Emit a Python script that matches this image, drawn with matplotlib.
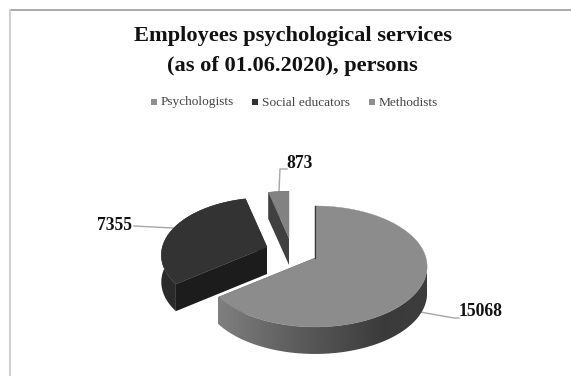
import numpy as np
import matplotlib
matplotlib.use("Agg")
import matplotlib.pyplot as plt
from matplotlib.patches import Polygon, Rectangle

categories = ["Psychologists", "Social educators", "Methodists"]
values = [15068, 7355, 873]
top_colors = ["#8c8c8c", "#333333", "#828282"]
cut_colors = ["#333333", "#1c1c1c", "#404040"]
rim_colors = ["#5a5a5a", "#2a2a2a", "#404040"]
legend_colors = ["#8f8f8f", "#333333", "#8f8f8f"]
apex_pixels = [(315, 258), (267, 247), (289, 238)]
radius_scale = [(0.965, 1.0), (0.91, 0.95), (0.87, 0.9)]
label_pixels = [(481, 312), (115, 226), (300, 163)]
leader_paths = [[(420, 312), (454, 318), (459, 318)],
                [(173, 228), (134, 226)],
                [(279, 191), (280, 169), (287, 169)]]

W, H = 571, 376
DEPTH = 27
RX, A, B = 115.0, 59.3, 0.14

fig = plt.figure(figsize=(W / 100, H / 100), dpi=100)
ax = fig.add_axes([0, 0, 1, 1])
ax.set_xlim(0, W)
ax.set_ylim(H, 0)
ax.axis("off")


def project(theta):
    """Map a clockwise-from-north angle on the unit disc to a pixel offset."""
    u, v = np.sin(theta), np.cos(theta)
    d = 1 + B * v
    return RX * u / d, -A * v / d


# Frame lines along the top and left of the chart area
ax.plot([9, W], [9.5, 9.5], color="#a2a2a2", lw=1.3, solid_capstyle="butt")
ax.plot([9.5, 9.5], [9, H], color="#d0d0d0", lw=1.5, solid_capstyle="butt")

# Slice angles follow from the values, clockwise from north
fractions = np.array(values, dtype=float) / sum(values)
edges = np.concatenate([[0], np.cumsum(fractions)]) * 2 * np.pi

# Horizontal shading used on the outer wall of the large slice
gradient = np.interp(np.linspace(0, 1, 256), [0, 0.35, 0.8, 1], [0.50, 0.37, 0.23, 0.24])[None, :]

# Back to front: methodists, social educators, psychologists
for i in [2, 1, 0]:
    base_z = 2 + 4 * (2 - i)
    cx, cy = apex_pixels[i]
    th = np.linspace(edges[i], edges[i + 1], 200)
    dx, dy = project(th)
    sx, sy = radius_scale[i]
    rim = np.column_stack([cx + sx * dx, cy + sy * dy])
    apex = np.array([cx, cy], dtype=float)
    down = np.array([0, DEPTH])

    # Cut faces running from the apex to each end of the rim
    for end in (rim[0], rim[-1]):
        face = np.array([apex, end, end + down, apex + down])
        ax.add_patch(Polygon(face, closed=True, fc=cut_colors[i], ec="none", zorder=base_z))

    # Curved outer wall; the large slice gets a clipped gradient
    wall = np.vstack([rim, (rim + down)[::-1]])
    if i == 0:
        visible = rim[:, 1] >= rim[:, 1][np.argmax(rim[:, 0])]
        low_rim = rim[visible]
        wall = np.vstack([low_rim, (low_rim + down)[::-1]])
        patch = Polygon(wall, closed=True, fc="none", ec="none", zorder=base_z + 1)
        ax.add_patch(patch)
        im = ax.imshow(gradient, cmap="gray", vmin=0, vmax=1, aspect="auto", zorder=base_z + 1,
                       extent=[low_rim[:, 0].min(), low_rim[:, 0].max(), H, 0])
        im.set_clip_path(patch)
    else:
        ax.add_patch(Polygon(wall, closed=True, fc=rim_colors[i], ec="none", zorder=base_z + 1))

    ax.add_patch(Polygon(np.vstack([apex, rim]), closed=True, fc=top_colors[i], ec=top_colors[i], lw=0.3,
                         zorder=base_z + 2))

    # Thin dark sliver where the first cut face of the large slice shows
    if i == 0:
        ax.plot([rim[0, 0], apex[0]], [rim[0, 1], apex[1]], color="#3a3a3a", lw=0.9, zorder=base_z + 3)

ax.set_xlim(0, W)
ax.set_ylim(H, 0)

# Value labels and their leader lines
for i in range(3):
    xs, ys = zip(*leader_paths[i])
    ax.plot(xs, ys, color="#a6a6a6", lw=1.0, zorder=1)
    ax.text(*label_pixels[i], f"{values[i]}", family="Liberation Serif", weight="bold", fontsize=12.7,
            ha="center", va="center", color="#111111", zorder=20)

# Title
ax.text(292.5, 36, "Employees psychological services", family="Liberation Serif", weight="bold",
        fontsize=16.1, ha="center", va="center", color="#111111")
ax.text(292.5, 66, "(as of 01.06.2020), persons", family="Liberation Serif", weight="bold",
        fontsize=16.1, ha="center", va="center", color="#111111")

# Legend row
legend_x = [151, 252, 369]
for x, name, col in zip(legend_x, categories, legend_colors):
    ax.add_patch(Rectangle((x, 99), 6, 6, fc=col, ec="none"))
    ax.text(x + 9.5, 102.5, name, family="Liberation Serif", fontsize=9.6, ha="left", va="center",
            color="#444444")

fig.savefig("out.png", dpi=100, facecolor="white")
